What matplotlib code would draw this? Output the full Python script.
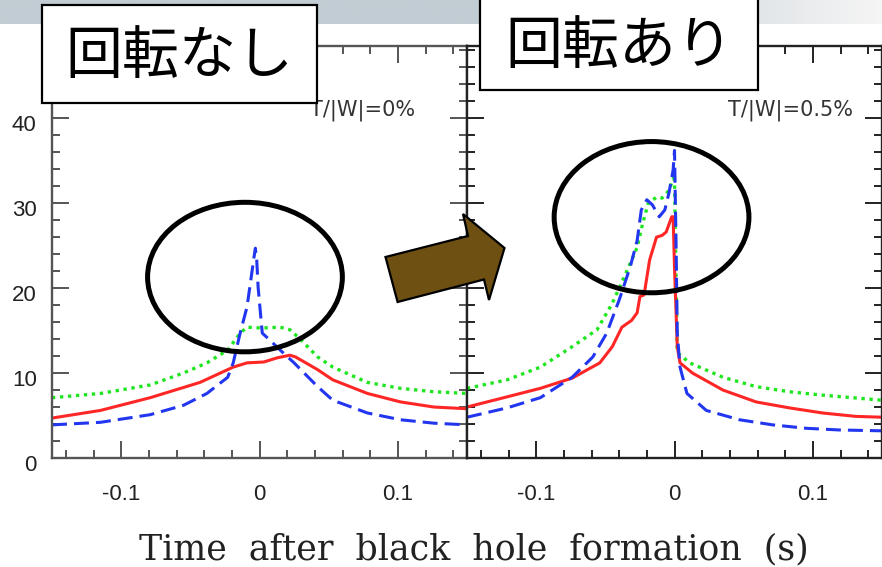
import numpy as np
import matplotlib
matplotlib.use('Agg')
import matplotlib.pyplot as plt
from matplotlib.patches import Ellipse, Polygon, Rectangle
from matplotlib.transforms import offset_copy

plt.rcParams['font.family'] = ['DejaVu Sans', 'Noto Sans CJK JP']

# --- data: T/|W| = 0% (no rotation) ---
t_red0 = [-0.150, -0.115, -0.079, -0.043, -0.019, -0.009, 0.003, 0.013, 0.022, 0.026,
          0.042, 0.053, 0.078, 0.102, 0.126, 0.150]
red0 = [4.7, 5.6, 7.1, 8.9, 10.7, 11.2, 11.3, 11.8, 12.1, 11.9,
        10.4, 9.2, 7.6, 6.6, 6.0, 5.8]

t_green0 = [-0.150, -0.115, -0.079, -0.055, -0.038, -0.023, -0.014, -0.009, 0.001, 0.015,
            0.022, 0.030, 0.042, 0.053, 0.078, 0.102, 0.126, 0.150]
green0 = [7.1, 7.6, 8.6, 10.0, 11.2, 12.7, 14.7, 15.4, 15.3, 15.4,
          15.1, 13.9, 11.9, 10.7, 8.9, 8.2, 7.8, 7.6]

t_blue0 = [-0.150, -0.115, -0.079, -0.055, -0.038, -0.023, -0.019, -0.014, -0.009, -0.004,
           -0.003, -0.002, -0.001, 0.002, 0.006, 0.015, 0.025, 0.042, 0.053, 0.078,
           0.102, 0.126, 0.150]
blue0 = [3.9, 4.2, 5.1, 6.2, 7.6, 9.5, 11.2, 14.7, 17.8, 23.6,
         24.7, 23.3, 20.1, 14.7, 14.1, 12.7, 11.2, 8.4, 6.8, 5.3,
         4.5, 4.1, 3.9]

# --- T/|W| = 0.5% (rotating) ---
t_red1 = [-0.150, -0.121, -0.097, -0.074, -0.054, -0.045, -0.038, -0.031, -0.027, -0.025,
          -0.022, -0.018, -0.013, -0.009, -0.006, -0.002, -0.001, 0.000, 0.002, 0.004,
          0.013, 0.035, 0.059, 0.083, 0.107, 0.131, 0.150]
red1 = [6.0, 7.2, 8.2, 9.4, 11.2, 13.1, 15.4, 16.2, 17.1, 19.0,
        19.2, 23.3, 26.0, 26.2, 26.6, 28.4, 28.4, 22.5, 13.1, 11.2,
        10.0, 8.0, 6.6, 5.9, 5.3, 4.9, 4.8]

t_green1 = [-0.150, -0.121, -0.097, -0.074, -0.056, -0.045, -0.035, -0.027, -0.023, -0.019,
            -0.013, -0.009, -0.004, -0.001, 0.000, 0.001, 0.002, 0.011, 0.035, 0.059,
            0.083, 0.107, 0.150]
green1 = [8.2, 9.2, 10.7, 13.1, 15.1, 18.2, 21.8, 24.8, 27.6, 30.0,
          30.7, 30.6, 31.5, 32.9, 32.7, 22.5, 12.4, 11.2, 9.5, 8.4,
          7.8, 7.4, 6.8]

t_blue1 = [-0.150, -0.121, -0.097, -0.074, -0.059, -0.049, -0.040, -0.032, -0.027, -0.024,
           -0.020, -0.016, -0.011, -0.007, -0.004, -0.001, 0.000, 0.001, 0.002, 0.004,
           0.009, 0.023, 0.047, 0.071, 0.095, 0.119, 0.150]
blue1 = [4.8, 5.9, 7.1, 9.5, 11.9, 14.7, 18.6, 22.5, 25.6, 29.2,
         30.4, 29.8, 28.4, 29.2, 31.2, 33.9, 36.2, 26.5, 14.7, 10.7,
         7.6, 5.6, 4.5, 3.9, 3.5, 3.3, 3.2]

xticks = [-0.1, 0, 0.1]
xticklabels = ['-0.1', '0', '0.1']
yticks = [0, 10, 20, 30, 40]
panel_labels = ['T/|W|=0%', 'T/|W|=0.5%']
titles = ['回転なし', '回転あり']

W, H = 882, 567
fig = plt.figure(figsize=(W / 100, H / 100), dpi=100)

# slide header band
band = fig.add_axes([0, 1 - 24 / H, 1, 24 / H])
c0 = np.array([0.76, 0.80, 0.83])
c1 = np.array([0.96, 0.96, 0.96])
f = np.clip((np.linspace(0, 1, 400) - 0.62) / 0.38, 0, 1)
grad = c0[None, :] * (1 - f[:, None]) + c1[None, :] * f[:, None]
band.imshow(grad[None, :, :], aspect='auto', extent=[0, 1, 0, 1])
band.axis('off')

ax1 = fig.add_axes([52 / W, 1 - 458 / H, 415 / W, 412 / H])
ax2 = fig.add_axes([467 / W, 1 - 458 / H, 415 / W, 412 / H])

lw = 2.2
panels = [
    (ax1, t_red0, red0, t_green0, green0, t_blue0, blue0),
    (ax2, t_red1, red1, t_green1, green1, t_blue1, blue1),
]
spine_cols = ['#555555', '#222222']
for i, (ax, tr, r, tg, g, tb, b) in enumerate(panels):
    ax.plot(tg, g, color='#1ee61e', lw=2.4, linestyle=(0, (1, 1.4)))
    ax.plot(tr, r, color='#ff2626', lw=lw)
    ax.plot(tb, b, color='#2236f0', lw=lw, linestyle=(0, (4.9, 2.3)))
    ax.set_xlim(-0.15, 0.15)
    ax.set_ylim(0, 48.5)
    ax.set_xticks(xticks)
    ax.set_xticklabels(xticklabels)
    ax.set_xticks(np.arange(-0.14, 0.141, 0.02), minor=True)
    ax.set_yticks(yticks)
    ax.set_yticks(np.arange(0, 48.5, 2), minor=True)
    ax.tick_params(which='both', direction='in', top=True, right=True,
                   width=1.4, color=spine_cols[i])
    ax.tick_params(which='major', length=12)
    ax.tick_params(which='minor', length=6)
    ax.tick_params(axis='x', pad=19, labelsize=16, labelcolor='#222222')
    ax.tick_params(axis='y', pad=11, labelsize=16, labelcolor='#222222')
    for lab in ax.get_xticklabels() + ax.get_yticklabels():
        lab.set_family('Liberation Sans')
    for s in ax.spines.values():
        s.set_linewidth(1.7)
        s.set_color(spine_cols[i])
    ax.text(0.875 if i == 0 else 0.930, 0.845, panel_labels[i], transform=ax.transAxes,
            ha='right', va='center', fontsize=15, color='#333333')

ax2.tick_params(axis='y', labelleft=False)
for lab in ax1.get_yticklabels():
    lab.set_transform(offset_copy(lab.get_transform(), fig=fig, x=0, y=-5, units='dots'))

# circles around the peaks
ax1.add_patch(Ellipse((-0.0105, 21.3), 0.1408, 17.6, fill=False, ec='black', lw=3.6,
                      clip_on=False, zorder=10))
ax2.add_patch(Ellipse((-0.0166, 28.35), 0.1408, 17.8, fill=False, ec='black', lw=3.6,
                      clip_on=False, zorder=10))

# block arrow between panels (pixel outline)
arrow_px = [(385.5, 257), (468, 236), (463, 214), (504.5, 248), (489, 300), (484, 279.5), (397.6, 302)]
arrow = Polygon([(x / W, 1 - y / H) for x, y in arrow_px], closed=True,
                transform=fig.transFigure, fc='#6e5012', ec='black', lw=1.6, zorder=8)
fig.patches.append(arrow)

# title boxes
boxes = [(42, 5, 317, 103), (480, -3, 758, 90)]
for (x0, y0, x1, y1), t in zip(boxes, titles):
    fig.patches.append(Rectangle((x0 / W, 1 - y1 / H), (x1 - x0) / W, (y1 - y0) / H,
                                 transform=fig.transFigure, fc='white', ec='black',
                                 lw=1.6, zorder=8))
    fig.text((x0 + x1) / 2 / W, 1 - ((y0 + y1) / 2 + 3) / H, t, ha='center', va='center',
             fontsize=41, family='Noto Sans CJK JP', zorder=9)

fig.text(474 / W, 1 - 559 / H, 'Time  after  black  hole  formation  (s)', ha='center',
         va='baseline', fontsize=25, family='DejaVu Serif', color='#222222')

fig.savefig('out.png', dpi=100)
